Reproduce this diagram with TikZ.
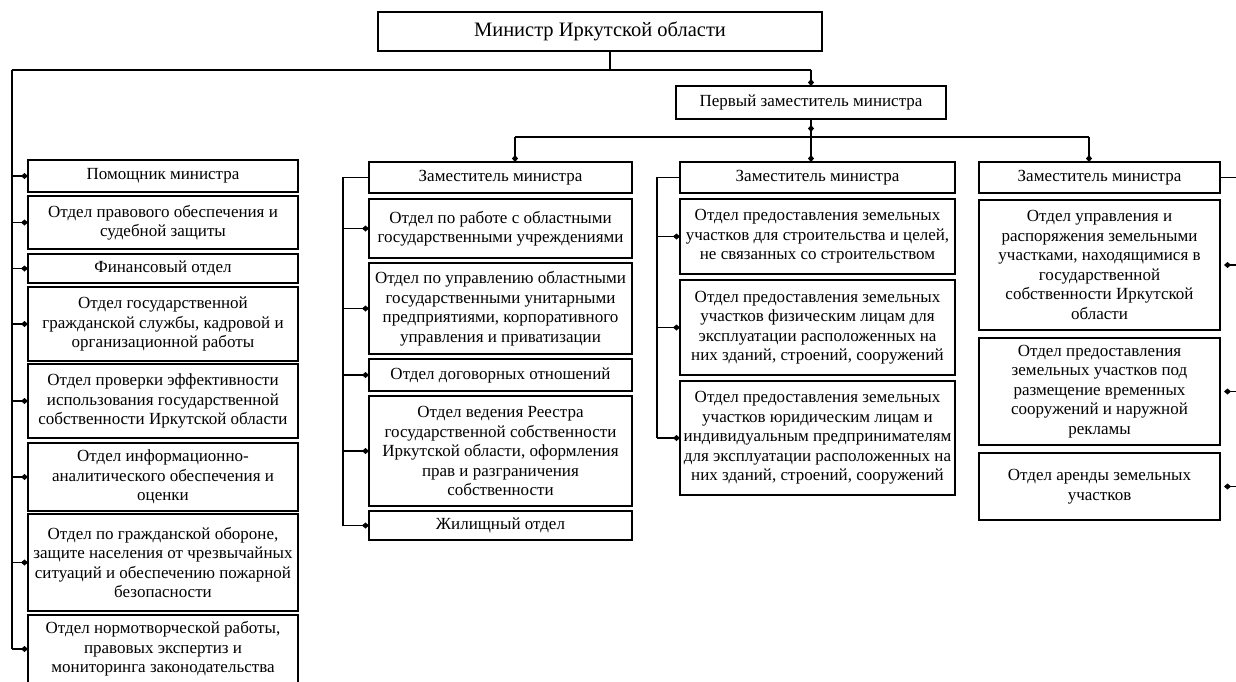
\documentclass[tikz,border=0pt]{standalone}
\usepackage{fontspec}
\setmainfont{Liberation Serif}
\usetikzlibrary{arrows.meta,calc}
\tikzset{
  box/.style={draw, line width=1.7pt, inner sep=1pt, outer sep=0pt, align=center,
    font=\fontsize{17}{19.5}\selectfont},
  dbox/.style={box, font=\fontsize{17}{19.5}\selectfont},
  topbox/.style={box, font=\fontsize{20.5}{23}\selectfont},
  conn/.style={line width=1.3pt},
  tip/.style={conn, -{Diamond[length=7pt,width=6pt]}},
}
\newcommand\bx[7][box]{\node[#1, minimum width={#5-#3}, minimum height={#6-#4}] (#2) at ({(#3+#5)/2},{(#4+#6)/2}) {#7};}
\begin{document}
\begin{tikzpicture}[x=1pt,y=-1pt]
\useasboundingbox (0,0) rectangle (1236,681);
\fill[white] (0,0) rectangle (1236,681);
\clip (0,0) rectangle (1236,681);
% top
\bx[topbox]{min}{378}{12}{822}{51}{Министр Иркутской области}
\bx[dbox]{fd}{676}{86}{946}{119}{Первый заместитель министра}
\bx[dbox]{d1}{369}{162}{632}{193}{Заместитель министра}
\bx[dbox]{d2}{680}{162}{955}{193}{Заместитель министра}
\bx[dbox]{d3}{979}{162}{1220}{193}{Заместитель министра}
% left column
\bx{l1}{28}{160}{298}{192}{Помощник министра}
\bx{l2}{28}{196}{298}{249}{Отдел правового обеспечения и\\судебной защиты}
\bx{l3}{28}{254}{298}{283}{Финансовый отдел}
\bx{l4}{28}{287}{298}{361}{Отдел государственной\\гражданской службы, кадровой и\\организационной работы}
\bx{l5}{28}{364}{298}{438}{Отдел проверки эффективности\\использования государственной\\собственности Иркутской области}
\bx{l6}{28}{443}{298}{511}{Отдел информационно-\\аналитического обеспечения и\\оценки}
\bx{l7}{28}{514}{298}{611}{Отдел по гражданской обороне,\\защите населения от чрезвычайных\\ситуаций и обеспечению пожарной\\безопасности}
\bx{l8}{28}{615}{298}{683}{Отдел нормотворческой работы,\\правовых экспертиз и\\мониторинга законодательства}
% deputy 1 column
\bx{a1}{369}{199}{632}{258}{Отдел по работе с областными\\государственными учреждениями}
\bx{a2}{369}{263}{632}{354}{Отдел по управлению областными\\государственными унитарными\\предприятиями, корпоративного\\управления и приватизации}
\bx{a3}{369}{359}{632}{391}{Отдел договорных отношений}
\bx{a4}{369}{396}{632}{506}{Отдел ведения Реестра\\государственной собственности\\Иркутской области, оформления\\прав и разграничения\\собственности}
\bx{a5}{369}{511}{632}{540}{Жилищный отдел}
% deputy 2 column
\bx{b1}{680}{199}{955}{274}{Отдел предоставления земельных\\участков для строительства и целей,\\не связанных со строительством}
\bx{b2}{680}{280}{955}{375}{Отдел предоставления земельных\\участков физическим лицам для\\эксплуатации расположенных на\\них зданий, строений, сооружений}
\bx{b3}{680}{381}{955}{495}{Отдел предоставления земельных\\участков юридическим лицам и\\индивидуальным предпринимателям\\для эксплуатации расположенных на\\них зданий, строений, сооружений}
% deputy 3 column
\bx{c1}{979}{200}{1220}{330}{Отдел управления и\\распоряжения земельными\\участками, находящимися в\\государственной\\собственности Иркутской\\области}
\bx{c2}{979}{338}{1220}{445}{Отдел предоставления\\земельных участков под\\размещение временных\\сооружений и наружной\\рекламы}
\bx{c3}{979}{453}{1220}{520}{Отдел аренды земельных\\участков}
% connectors: minister
\coordinate (mj) at (610,70);
\coordinate (lt) at (12,70);
\draw[conn] (min.south -| mj) -- (mj);
\draw[conn] (lt) -- (lt -| fd.north);
\draw[tip] (lt -| fd.north) -- (fd.north);
\draw[conn] (lt) -- (lt |- l8.west);
\foreach \n in {l1,l2,l3,l4,l5,l6,l7,l8} \draw[tip] (lt |- \n.west) -- (\n.west);
% first deputy bus
\coordinate (bl) at (515,137);
\coordinate (br) at (1089,137);
\draw[conn] (fd.south) -- (fd.south |- bl);
\draw[tip] (fd.south) -- ++(0,13);
\draw[conn] (bl) -- (br);
\draw[tip] (bl) -- (bl |- d1.north);
\draw[tip] (fd.south |- bl) -- (fd.south |- d2.north);
\draw[tip] (br) -- (br |- d3.north);
% deputy 1 bracket
\coordinate (ka) at (343,0);
\draw[conn] (d1.west) -- (d1.west -| ka) -- (ka |- a5.west);
\foreach \n in {a1,a2,a3,a4,a5} \draw[tip] (ka |- \n.west) -- (\n.west);
% deputy 2 bracket
\coordinate (kb) at (657,0);
\draw[conn] (d2.west) -- (d2.west -| kb) -- (kb |- b3.west);
\foreach \n in {b1,b2,b3} \draw[tip] (kb |- \n.west) -- (\n.west);
% deputy 3 bracket
\coordinate (kc) at (1238,0);
\draw[conn] (d3.east) -- (d3.east -| kc) -- (kc |- c3.east);
\foreach \n in {c1,c2,c3} \draw[tip, shorten >=4pt] (kc |- \n.east) -- (\n.east);
\end{tikzpicture}
\end{document}
